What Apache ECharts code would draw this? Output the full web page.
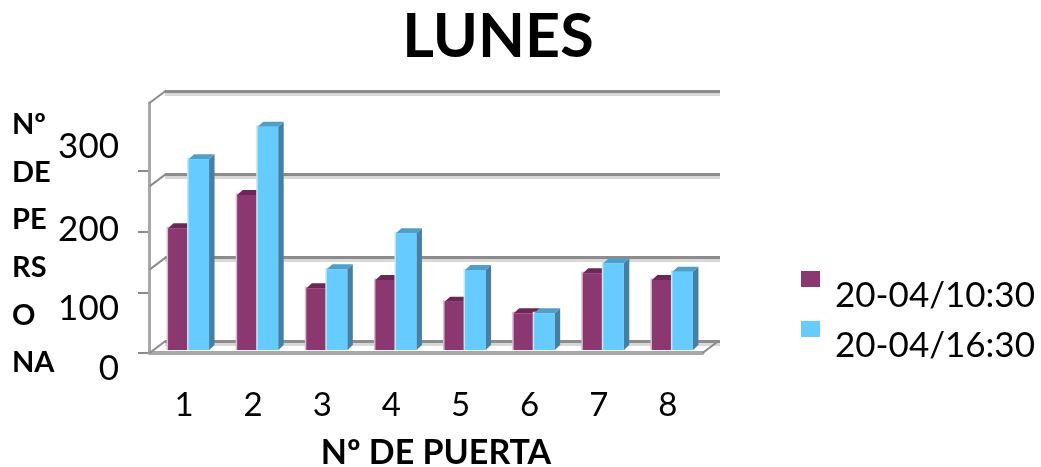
<!DOCTYPE html>
<html>
<head>
<meta charset="utf-8">
<style>
  html, body { margin: 0; padding: 0; background: #fff; }
  #chart { width: 1041px; height: 467px; }
</style>
<script src="https://cdn.jsdelivr.net/npm/echarts@6/dist/echarts.min.js"></script>
</head>
<body>
<div id="chart"></div>
<script>
const categories = ['1', '2', '3', '4', '5', '6', '7', '8'];
const seriesNames = ['20-04/10:30', '20-04/16:30'];
const morning = [146, 186, 74, 84, 58, 44, 92, 84];
const afternoon = [229, 268, 97, 140, 96, 44, 104, 94];
const gridValues = [0, 100, 200, 300];

const FONT = 'Lato, Carlito, sans-serif';
const chart = echarts.init(document.getElementById('chart'));

// pseudo 3D column: front, top and side faces from the axis scale
const columnRenderer = (dx, colors) => (params, api) => {
  const base = api.coord([api.value(0), 0]);
  const top = api.coord([api.value(0), api.value(1)]);
  const w = 20.5, d = 5.5;
  const x = base[0] + dx, y0 = base[1] - 3, y1 = top[1] - 3;
  return {
    type: 'group',
    children: [
      { type: 'rect', shape: { x: x - 1.5, y: y1 - 1.5, width: w + 3, height: y0 - y1 + 1.5 }, style: { fill: colors.halo } },
      { type: 'polygon', shape: { points: [[x + w, y1], [x + w + d, y1 - 5], [x + w + d, y0 - 5], [x + w, y0]] }, style: { fill: colors.side } },
      { type: 'polygon', shape: { points: [[x, y1], [x + d, y1 - 5], [x + w + d, y1 - 5], [x + w, y1]] }, style: { fill: colors.top } },
      { type: 'rect', shape: { x: x, y: y1, width: w, height: y0 - y1 }, style: { fill: colors.front } }
    ]
  };
};

// diagonal strokes joining the front axis to the back wall
const wallRenderer = (params, api) => {
  const band = api.size([1, 0])[0];
  const p = api.coord([0, api.value(0)]);
  const fromX = p[0] - band / 2;
  const children = [{
    type: 'line',
    shape: { x1: fromX, y1: p[1], x2: fromX + 16, y2: p[1] - 12 },
    style: { stroke: '#8c8c8c', lineWidth: 2 }
  }];
  if (api.value(0) === 0) {
    const right = fromX + band * categories.length;
    children.push({
      type: 'line',
      shape: { x1: right, y1: p[1], x2: right + 16, y2: p[1] - 12 },
      style: { stroke: '#8c8c8c', lineWidth: 2 }
    });
  }
  return { type: 'group', children };
};

const hiddenX = (gridIndex) => ({
  type: 'category', gridIndex, data: categories,
  axisLine: { show: false }, axisTick: { show: false }, axisLabel: { show: false }
});

const option = {
  animation: false,
  backgroundColor: '#fff',
  textStyle: { fontFamily: FONT, color: '#000' },
  title: [
    {
      text: 'LUNES', left: 493, top: 2, textAlign: 'center',
      textStyle: { fontFamily: FONT, fontSize: 61, fontWeight: 'bold', color: '#000' }
    },
    {
      text: 'Nº\nDE\nPE\nRS\nO\nNA', left: 7, top: 96,
      textStyle: { fontFamily: FONT, fontSize: 29, fontWeight: 'bold', color: '#000', lineHeight: 47.6 }
    }
  ],
  legend: {
    data: seriesNames, orient: 'vertical', left: 801, top: 244.5, itemGap: -19, padding: 0,
    itemWidth: 19, itemHeight: 16, icon: 'rect', selectedMode: false,
    formatter: '{a|{name}}',
    textStyle: {
      fontFamily: FONT, fontSize: 35, color: '#000',
      rich: { a: { fontFamily: FONT, fontSize: 35, color: '#000', lineHeight: 30, padding: [34, 0, 0, 10] } }
    }
  },
  grid: [
    { left: 149.5, top: 103, width: 553, height: 250, outerBoundsMode: 'none' },
    { left: 165, top: 91, width: 555, height: 250, outerBoundsMode: 'none' },
    { left: 148, top: 171, width: 553, height: 182, outerBoundsMode: 'none' },
    { left: 122, top: 147, width: 553, height: 222, outerBoundsMode: 'none' }
  ],
  xAxis: [
    {
      type: 'category', gridIndex: 0, data: categories,
      axisLine: { lineStyle: { color: '#a8a8a8', width: 4 } },
      axisTick: { show: false },
      axisLabel: { fontFamily: FONT, fontSize: 33, color: '#000', margin: 36 },
      name: 'Nº DE PUERTA', nameLocation: 'middle', nameGap: 83,
      nameTextStyle: { fontFamily: FONT, fontSize: 34, fontWeight: 'bold', color: '#000', padding: [0, 0, 0, 20] }
    },
    hiddenX(1), hiddenX(2), hiddenX(3)
  ],
  yAxis: [
    {
      type: 'value', gridIndex: 0, min: 0, max: 300, interval: 100,
      axisLine: { show: true, lineStyle: { color: '#a8a8a8', width: 3 } },
      axisTick: { show: false }, axisLabel: { show: false }, splitLine: { show: false }
    },
    {
      type: 'value', gridIndex: 1, min: 0, max: 300, interval: 100,
      axisLine: { show: false }, axisTick: { show: false }, axisLabel: { show: false },
      splitLine: { show: true, showMinLine: true, showMaxLine: true, lineStyle: { color: '#8c8c8c', width: 3, shadowColor: '#d8d8d8', shadowOffsetY: 3 } }
    },
    {
      type: 'value', gridIndex: 2, min: 0, max: 300, interval: 100,
      axisLine: { show: false },
      axisTick: { show: true, inside: false, length: 10, lineStyle: { color: '#8c8c8c', width: 2 } },
      axisLabel: { show: false }, splitLine: { show: false }
    },
    {
      type: 'value', gridIndex: 3, min: 0, max: 300, interval: 100,
      axisLine: { show: false }, axisTick: { show: false }, splitLine: { show: false },
      axisLabel: {
        fontFamily: FONT, fontSize: 35, color: '#000', margin: 3,
        formatter: (v) => `{t${v}|${v}}`,
        rich: {
          t0: { fontFamily: FONT, fontSize: 35 },
          t100: { fontFamily: FONT, fontSize: 35, padding: [28, 0, 0, 0] },
          t200: { fontFamily: FONT, fontSize: 35, padding: [18, 0, 0, 0] },
          t300: { fontFamily: FONT, fontSize: 35 }
        }
      }
    }
  ],
  series: [
    {
      type: 'custom', name: 'wall', xAxisIndex: 0, yAxisIndex: 0, silent: true, clip: false, z: 1,
      data: gridValues.map((v) => [v]), encode: { y: 0 },
      renderItem: wallRenderer
    },
    {
      type: 'custom', name: seriesNames[0], xAxisIndex: 0, yAxisIndex: 0, clip: false, z: 3,
      itemStyle: { color: '#8b3871' },
      data: morning.map((v, i) => [i, v]), encode: { x: 0, y: 1 },
      renderItem: columnRenderer(-16, { front: '#8b3871', top: '#6b2857', side: '#6b2857', halo: '#d8bccf' })
    },
    {
      type: 'custom', name: seriesNames[1], xAxisIndex: 0, yAxisIndex: 0, clip: false, z: 4,
      itemStyle: { color: '#66ccff' },
      data: afternoon.map((v, i) => [i, v]), encode: { x: 0, y: 1 },
      renderItem: columnRenderer(4.5, { front: '#66ccff', top: '#4f9fc8', side: '#4480a6', halo: '#c9e6f3' })
    }
  ]
};

chart.setOption(option);
</script>
</body>
</html>
